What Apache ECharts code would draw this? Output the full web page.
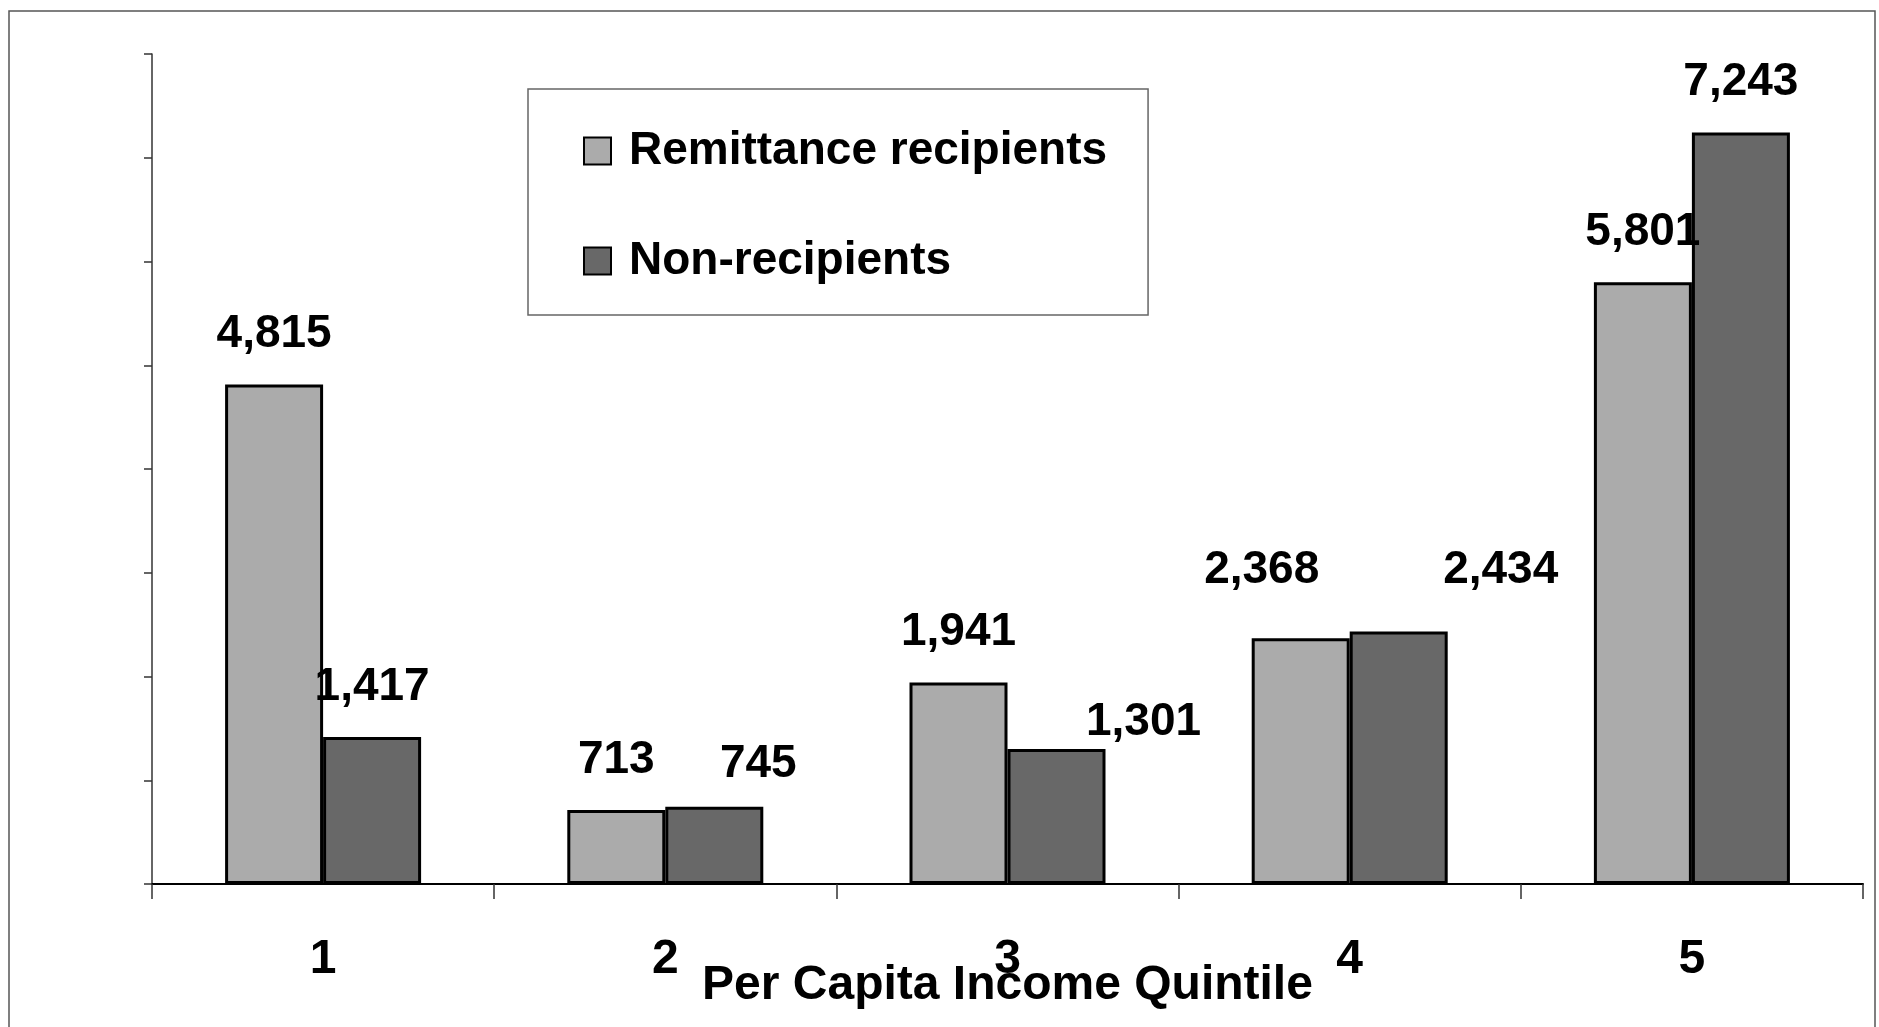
<!DOCTYPE html>
<html>
<head>
<meta charset="utf-8">
<title>Per Capita Income Quintile</title>
<script src="https://cdn.jsdelivr.net/npm/echarts@6/dist/echarts.min.js"></script>
<style>
html,body{margin:0;padding:0;background:#fff;}
#chart{width:1879px;height:1027px;}
</style>
</head>
<body>
<div id="chart"></div>
<script>
// 数据
var quintiles = ["1", "2", "3", "4", "5"];
var recipients = [4815, 713, 1941, 2368, 5801];
var nonRecipients = [1417, 745, 1301, 2434, 7243];
var seriesNames = ["Remittance recipients", "Non-recipients"];

var FONT = "Liberation Sans, Arial, sans-serif";

// 标签的个别偏移 (原图里有几个标签挪了位置)
var nudgeA = {3: [-39, -18]};
var nudgeB = {1: [44, 8], 2: [87, 23], 3: [102, -11]};

function comma(v){
    return String(v).replace(/\B(?=(\d{3})+(?!\d))/g, ",");
}

function buildData(values, nudge){
    var out = [];
    for (var i = 0; i < values.length; i++) {
        var item = {value: values[i]};
        if (nudge[i]) item.label = {offset: nudge[i]};
        out.push(item);
    }
    return out;
}

var labelStyle = {
    show: true,
    position: "top",
    distance: 27,
    fontFamily: FONT,
    fontWeight: "bold",
    fontSize: 46,
    color: "#000",
    formatter: function(p){ return comma(p.value); }
};

var chart = echarts.init(document.getElementById("chart"));
var option = {
    backgroundColor: "#fff",
    animation: false,
    graphic: [{
        type: "rect",
        shape: {x: 9, y: 11, width: 1866, height: 1040},
        style: {fill: "none", stroke: "#555", lineWidth: 1.5},
        silent: true
    }],
    grid: {left: 152, right: 16, top: 54, bottom: 143, containLabel: false, outerBoundsMode: "none"},
    legend: {
        orient: "vertical",
        left: 528,
        top: 89,
        padding: [39, 41, 31, 55],
        itemGap: 64,
        itemWidth: 27,
        itemHeight: 27,
        icon: "rect",
        borderColor: "#666",
        borderWidth: 1.5,
        backgroundColor: "#fff",
        textStyle: {
            fontFamily: FONT,
            fontWeight: "bold",
            fontSize: 46,
            color: "#000",
            padding: [0, 0, 0, 13]
        },
        data: seriesNames
    },
    xAxis: {
        type: "category",
        data: quintiles,
        boundaryGap: true,
        name: "Per Capita Income Quintile",
        nameLocation: "middle",
        nameGap: 78,
        nameMoveOverlap: false,
        nameTextStyle: {fontFamily: FONT, fontWeight: "bold", fontSize: 48, color: "#000"},
        axisLine: {lineStyle: {color: "#000", width: 2}},
        axisTick: {show: true, length: 15, lineStyle: {color: "#333", width: 1.5}},
        axisLabel: {margin: 52, fontFamily: FONT, fontWeight: "bold", fontSize: 48, color: "#000"}
    },
    yAxis: {
        type: "value",
        min: 0,
        max: 8000,
        interval: 1000,
        axisLine: {show: true, lineStyle: {color: "#333", width: 1.5}},
        axisTick: {show: true, length: 8, lineStyle: {color: "#333", width: 1.5}},
        axisLabel: {show: false},
        splitLine: {show: false}
    },
    series: [{
        name: seriesNames[0],
        type: "bar",
        barWidth: 98,
        barGap: "0%",
        itemStyle: {color: "#ababab", borderColor: "#000", borderWidth: 3},
        label: labelStyle,
        data: buildData(recipients, nudgeA)
    }, {
        name: seriesNames[1],
        type: "bar",
        barWidth: 98,
        barGap: "0%",
        itemStyle: {color: "#686868", borderColor: "#000", borderWidth: 3},
        label: labelStyle,
        data: buildData(nonRecipients, nudgeB)
    }]
};
chart.setOption(option);
</script>
</body>
</html>
